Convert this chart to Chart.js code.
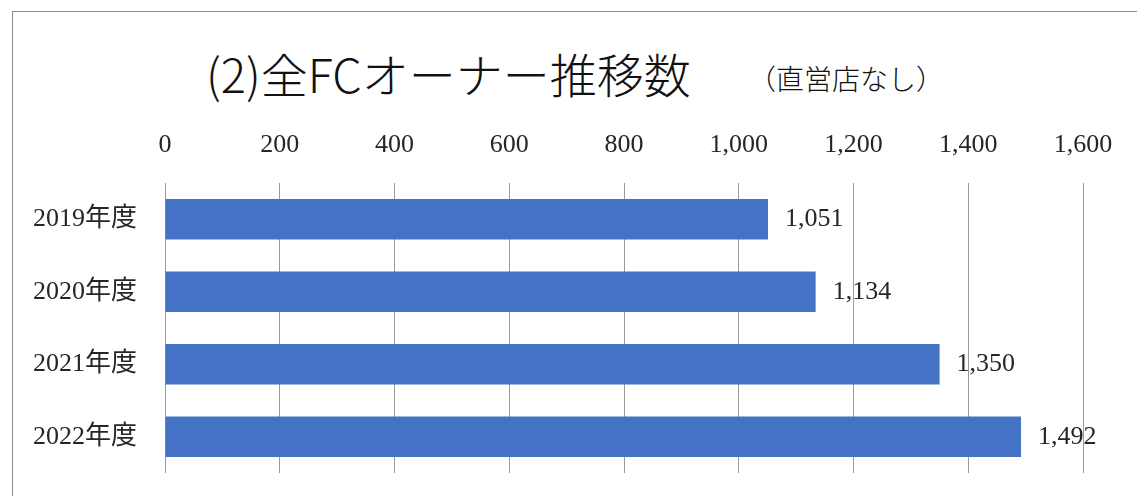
<!DOCTYPE html>
<html>
<head>
<meta charset="utf-8">
<script src="https://cdn.jsdelivr.net/npm/chart.js@4/dist/chart.umd.min.js"></script>
<style>
  html, body { margin: 0; padding: 0; background: #ffffff; overflow: hidden; }
  #wrap { position: relative; width: 1137px; height: 496px; }
  #frame { position: absolute; left: 12px; top: 11px; width: 1300px; height: 700px;
           border-top: 1px solid #8c8c8c; border-left: 1px solid #8c8c8c; box-sizing: border-box; }
  #title { position: absolute; left: 206px; top: 42px; font-family: 'Noto Sans CJK JP', sans-serif;
           font-size: 47px; font-weight: 300; line-height: 62px; color: #111; white-space: nowrap; }
  #sub { position: absolute; left: 748px; top: 61px; font-family: 'Noto Sans CJK JP', sans-serif;
         font-size: 28px; font-weight: 300; line-height: 34px; color: #111; white-space: nowrap; }
  canvas { position: absolute; left: 0; top: 0; }
</style>
</head>
<body>
<div id="wrap">
  <div id="frame"></div>
  <div id="title">(2)全FCオーナー推移数</div>
  <div id="sub">（直営店なし）</div>
  <canvas id="c" width="1137" height="496"></canvas>
</div>
<script>
const categories = ['2019年度', '2020年度', '2021年度', '2022年度'];
const owners = [1051, 1134, 1350, 1492];
const axisMin = 0;
const axisMax = 1600;
const axisStep = 200;

const fontFamily = "'Liberation Serif', 'Noto Sans CJK JP', serif";

const valueLabels = {
  id: 'valueLabels',
  afterDatasetsDraw(chart) {
    const ctx = chart.ctx;
    const meta = chart.getDatasetMeta(0);
    ctx.save();
    ctx.font = '26px ' + fontFamily;
    ctx.fillStyle = '#262626';
    ctx.textAlign = 'left';
    ctx.textBaseline = 'middle';
    meta.data.forEach((bar, i) => {
      const v = chart.data.datasets[0].data[i];
      ctx.fillText(v.toLocaleString('en-US'), bar.x + 17, bar.y);
    });
    ctx.restore();
  }
};

new Chart(document.getElementById('c'), {
  type: 'bar',
  data: {
    labels: categories,
    datasets: [{
      data: owners,
      backgroundColor: '#4472C4',
      borderWidth: 0,
      barPercentage: 0.56,
      categoryPercentage: 1.0
    }]
  },
  options: {
    indexAxis: 'y',
    responsive: false,
    animation: false,
    locale: 'en-US',
    layout: { padding: { left: 0, right: 54, top: 0, bottom: 23 } },
    plugins: {
      legend: { display: false },
      tooltip: { enabled: false },
      title: { display: false }
    },
    scales: {
      x: {
        position: 'top',
        min: axisMin,
        max: axisMax,
        ticks: {
          stepSize: axisStep,
          padding: 22,
          color: '#262626',
          font: { family: fontFamily, size: 26 },
          maxRotation: 0
        },
        grid: { color: '#9a9a9a', lineWidth: 1, drawTicks: false },
        border: { display: false },
        afterFit(scale) { scale.height = 183; }
      },
      y: {
        ticks: {
          padding: 28,
          color: '#262626',
          font: { family: fontFamily, size: 26 }
        },
        grid: { display: false, drawTicks: false },
        border: { display: false },
        afterFit(scale) {
          scale.width = 165;
          scale.paddingTop = 0;
          scale.paddingBottom = 0;
        }
      }
    }
  },
  plugins: [valueLabels]
});
</script>
</body>
</html>
